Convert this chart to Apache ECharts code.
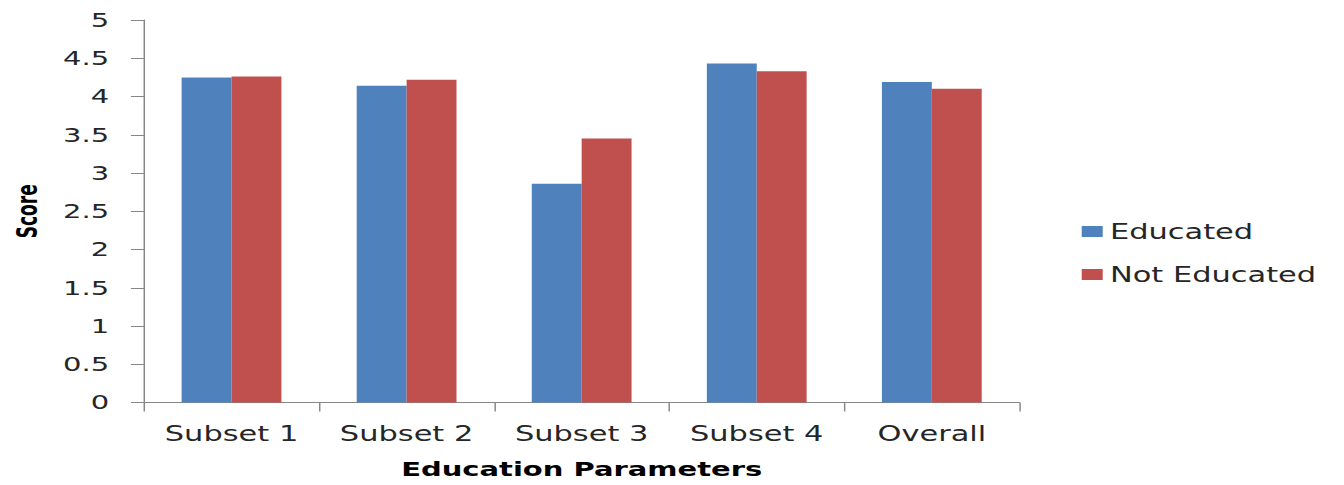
<!DOCTYPE html>
<html>
<head>
<meta charset="utf-8">
<script src="https://cdn.jsdelivr.net/npm/echarts@6/dist/echarts.min.js"></script>
<style>
  html, body { margin: 0; padding: 0; background: #fff; overflow: hidden; }
  /* The chart is laid out on a narrower canvas and widened horizontally. */
  #wrap { width: 1344px; height: 485px; overflow: hidden; }
  #chart { width: 927px; height: 485px; transform: scaleX(1.45); transform-origin: 0 0; }
</style>
</head>
<body>
<div id="wrap"><div id="chart"></div></div>
<script>
const categories = ['Subset 1', 'Subset 2', 'Subset 3', 'Subset 4', 'Overall'];
const educated = [4.25, 4.14, 2.86, 4.43, 4.19];
const notEducated = [4.26, 4.22, 3.45, 4.33, 4.10];
const seriesNames = ['Educated', 'Not Educated'];
const xTitle = 'Education Parameters';
const yTitle = 'Score';

const axisGray = '#868686';
const textColor = '#262626';
const font = 'DejaVu Sans';

const chart = echarts.init(document.getElementById('chart'), null, { renderer: 'svg' });

chart.setOption({
  animation: false,
  backgroundColor: '#fff',
  grid: { left: 99.3, right: 224, top: 20, bottom: 82.5, containLabel: false, outerBoundsMode: 'none' },
  legend: {
    orient: 'vertical',
    left: 741,
    top: 216,
    itemWidth: 14.5,
    itemHeight: 11,
    itemGap: 22,
    icon: 'rect',
    data: seriesNames,
    textStyle: { fontFamily: font, fontSize: 21, color: textColor }
  },
  xAxis: {
    type: 'category',
    data: categories,
    name: xTitle,
    nameLocation: 'middle',
    nameGap: 57,
    nameTextStyle: { fontFamily: font, fontSize: 20, fontWeight: 'bold', color: '#000' },
    axisLine: { lineStyle: { color: axisGray, width: 1 } },
    axisTick: { show: true, length: 9, lineStyle: { color: axisGray } },
    axisLabel: { fontFamily: font, fontSize: 21, color: textColor, margin: 21 }
  },
  yAxis: {
    type: 'value',
    min: 0,
    max: 5,
    interval: 0.5,
    name: yTitle,
    nameLocation: 'middle',
    nameRotate: 90,
    nameGap: 71,
    nameTextStyle: { fontFamily: 'DejaVu Sans Condensed', fontSize: 19, fontWeight: 'bold', color: '#000' },
    axisLine: { show: true, lineStyle: { color: axisGray, width: 1 } },
    axisTick: { show: true, length: 9, lineStyle: { color: axisGray } },
    splitLine: { show: false },
    axisLabel: { fontFamily: font, fontSize: 20, color: textColor, margin: 24 }
  },
  series: [
    {
      name: seriesNames[0],
      type: 'bar',
      data: educated,
      barGap: '0%',
      barCategoryGap: '43%',
      itemStyle: { color: '#4F81BD' }
    },
    {
      name: seriesNames[1],
      type: 'bar',
      data: notEducated,
      barGap: '0%',
      barCategoryGap: '43%',
      itemStyle: { color: '#C0504D' }
    }
  ]
});
</script>
</body>
</html>
